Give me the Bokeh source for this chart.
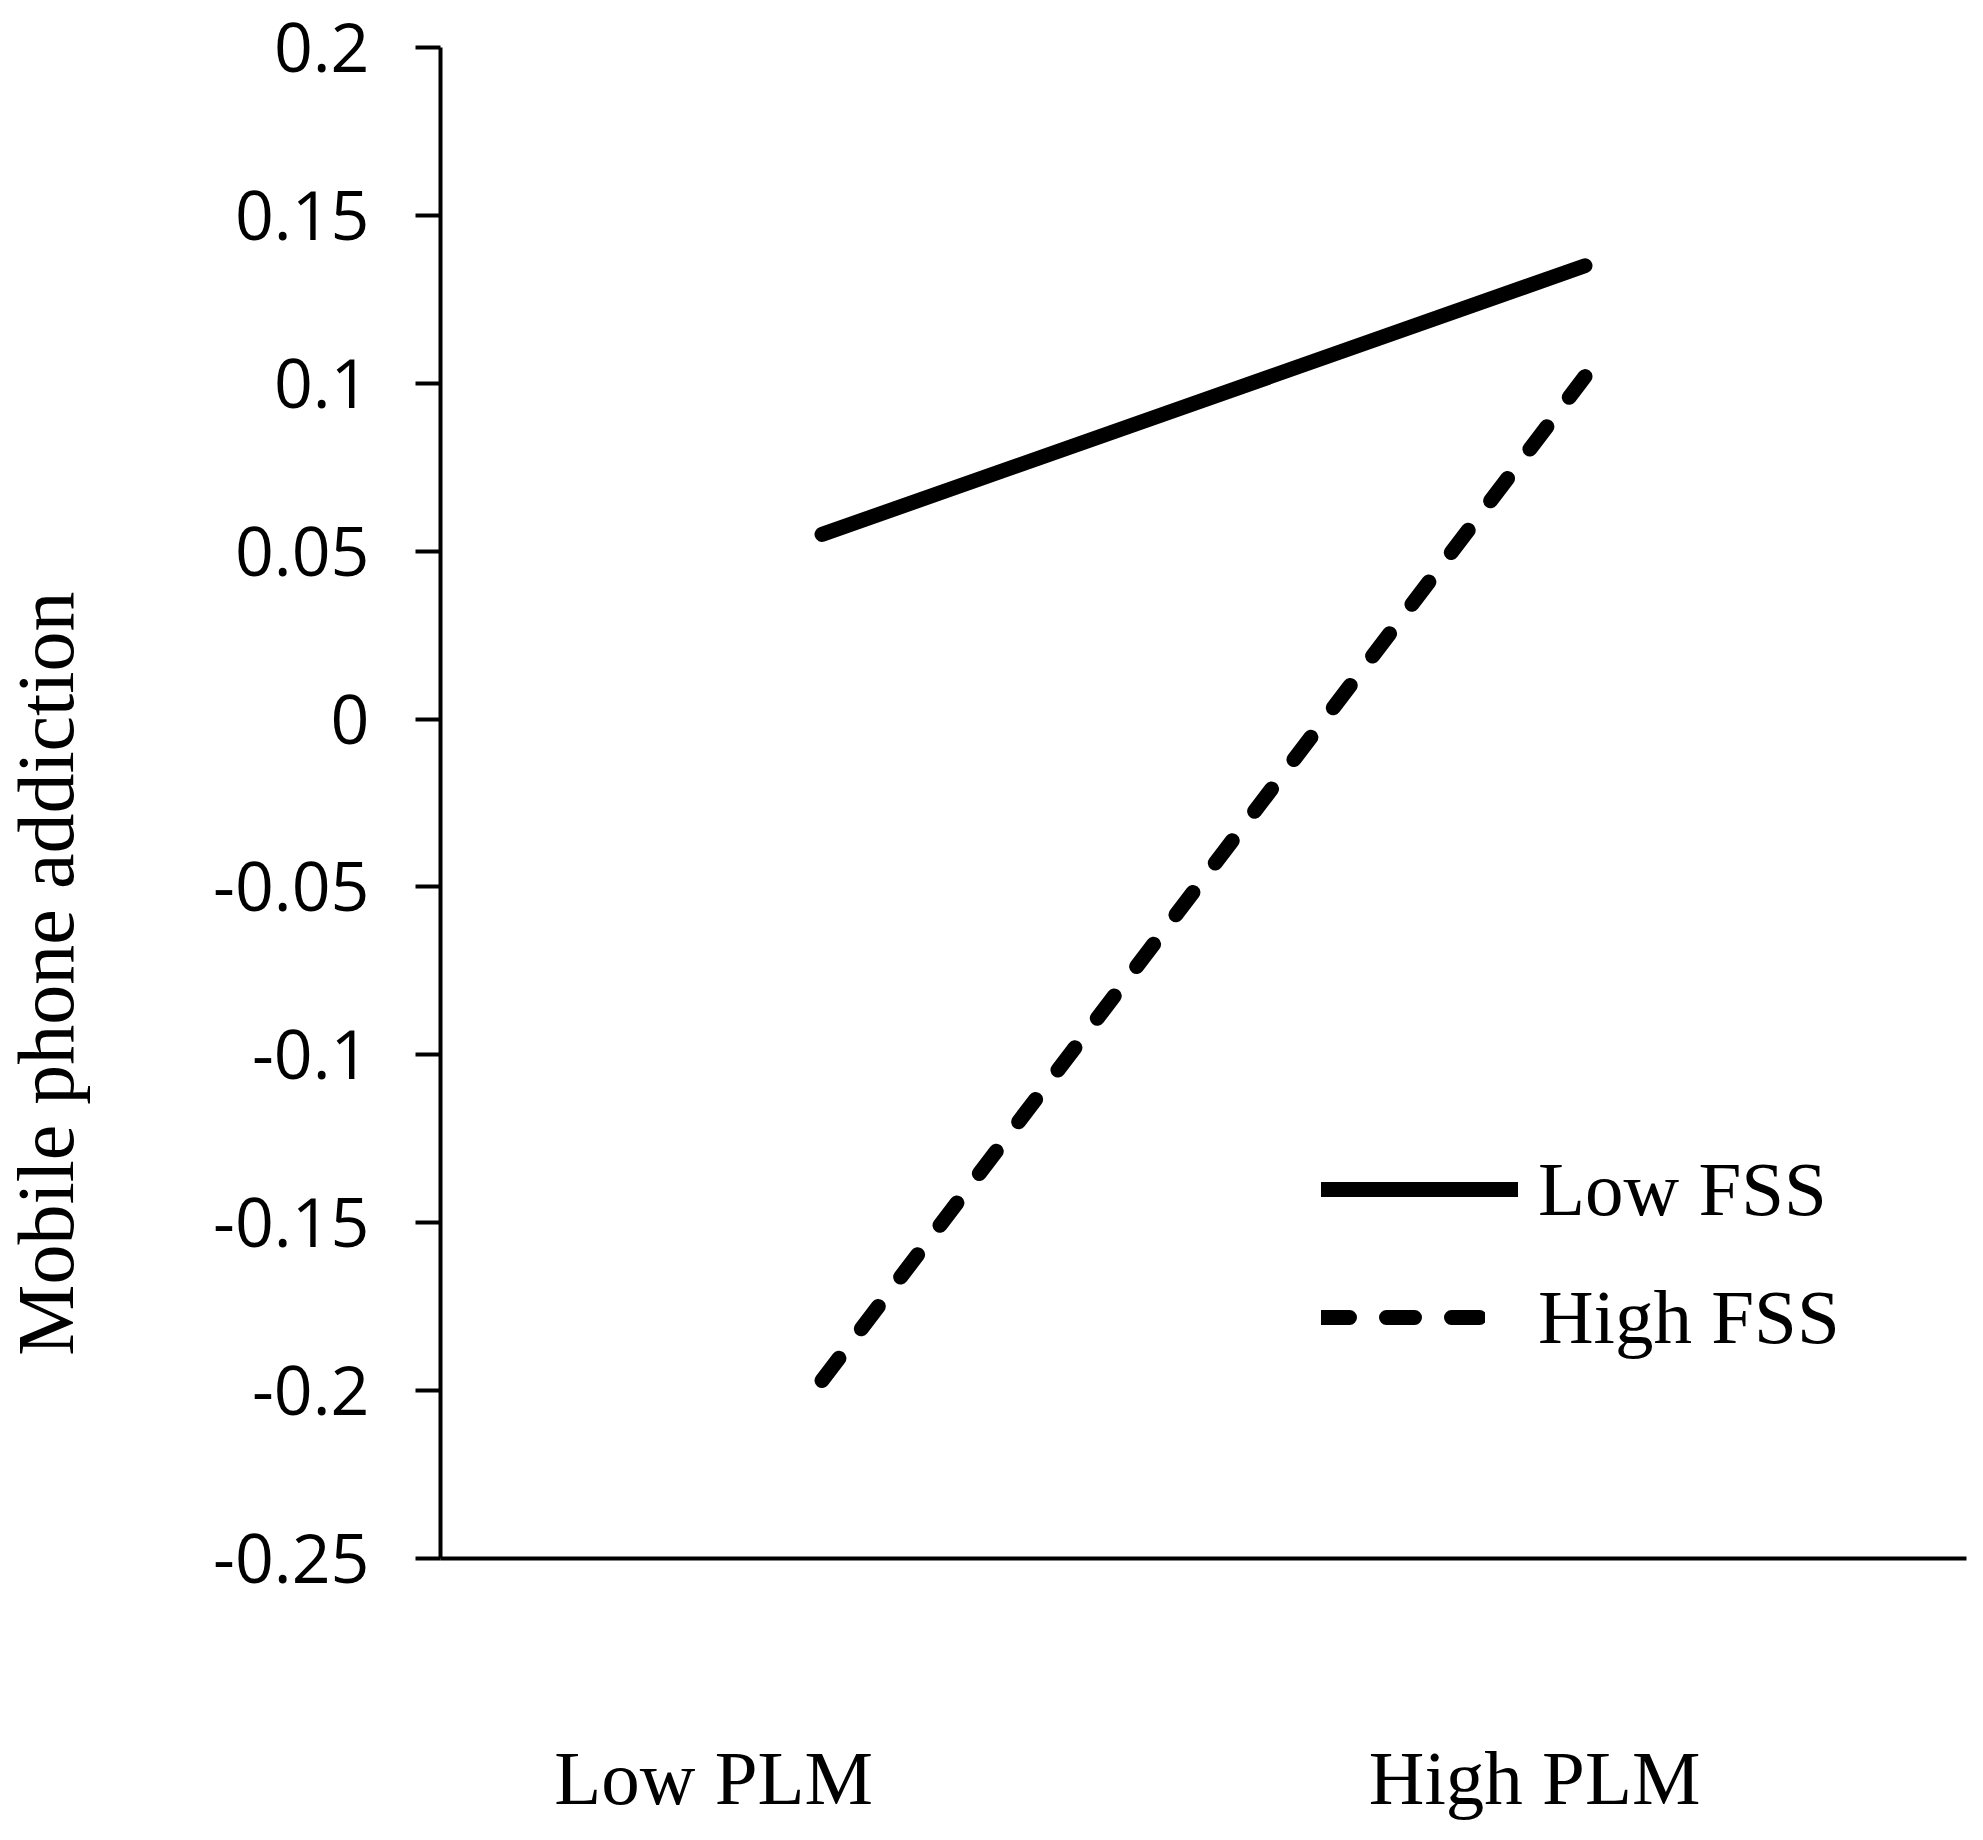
import math
from bokeh.plotting import figure
from bokeh.layouts import row
from bokeh.models import Legend, LegendItem, FixedTicker, Range1d
from bokeh.core.properties import value
from bokeh.embed import file_html
from bokeh.resources import INLINE

# ---- data ----
categories = ["Low PLM", "High PLM"]
cat_pos = [1, 2]
label_pos = [0.858, 1.934]   # where the category labels sit in the original picture
low_fss = [0.055, 0.135]
high_fss = [-0.197, 0.102]
series_names = ["Low FSS", "High FSS"]
y_ticks = [-0.25, -0.2, -0.15, -0.1, -0.05, 0.0, 0.05, 0.1, 0.15, 0.2]
y_tick_labels = ["-0.25", "-0.2", "-0.15", "-0.1", "-0.05", "0", "0.05", "0.1", "0.15", "0.2"]
y_title = "Mobile phone addiction"
y_title_center = -0.0758   # vertical centre of the axis title, in data units

TITLE_W = 90
FRAME_H = 1511
BORDER_TOP = 47
BORDER_BOTTOM = 266

yr = Range1d(-0.25, 0.2)

# ---- narrow strip holding the rotated y-axis title ----
pt = figure(frame_width=TITLE_W, frame_height=FRAME_H, x_range=Range1d(0, TITLE_W), y_range=yr,
            x_axis_location=None, y_axis_location=None,
            output_backend="svg", toolbar_location=None,
            min_border_left=0, min_border_right=0,
            min_border_top=BORDER_TOP, min_border_bottom=BORDER_BOTTOM,
            background_fill_color="white", border_fill_color="white")
pt.grid.visible = False
pt.outline_line_color = None
pt.text(x=[TITLE_W / 2], y=[y_title_center], text=[y_title], angle=math.pi / 2,
        text_align="center", text_baseline="middle",
        text_font=value("Liberation Serif"), text_font_size="80px", text_color="black")

# ---- main chart ----
p = figure(
    frame_width=1526, frame_height=FRAME_H,
    x_range=Range1d(0.5, 2.5), y_range=yr,
    output_backend="svg", toolbar_location=None,
    min_border_left=440 - TITLE_W, min_border_right=1,
    min_border_top=BORDER_TOP, min_border_bottom=BORDER_BOTTOM,
    background_fill_color="white", border_fill_color="white",
)
p.grid.visible = False
p.outline_line_color = None

# y axis
ya = p.yaxis[0]
ya.ticker = FixedTicker(ticks=y_ticks)
ya.major_label_overrides = {t: l for t, l in zip(y_ticks, y_tick_labels)}
ya.major_tick_out = 25
ya.major_tick_in = 0
ya.minor_tick_out = 0
ya.minor_tick_in = 0
ya.major_tick_line_width = 4
ya.major_tick_line_color = "black"
ya.axis_line_width = 4
ya.axis_line_color = "black"
ya.major_label_text_font = "Open Sans"
ya.major_label_text_font_size = "68px"
ya.major_label_text_color = "black"
ya.major_label_standoff = 46

# x axis
xa = p.xaxis[0]
xa.ticker = FixedTicker(ticks=label_pos)
xa.major_label_overrides = {t: l for t, l in zip(label_pos, categories)}
xa.major_tick_out = 0
xa.major_tick_in = 0
xa.minor_tick_out = 0
xa.minor_tick_in = 0
xa.axis_line_width = 4
xa.axis_line_color = "black"
xa.major_label_text_font = "Liberation Serif"
xa.major_label_text_font_size = "77px"
xa.major_label_text_color = "black"
xa.major_label_standoff = 176

r1 = p.line(cat_pos, low_fss, line_width=15, line_cap="round", line_color="black")
r2 = p.line(cat_pos, high_fss, line_width=15, line_cap="round", line_color="black",
            line_dash="28 37")

legend_specs = [
    (series_names[0], [r1], (881, 323), 197, 20),
    (series_names[1], [r2], (881, 195), 164, 53),
]
for name, rends, loc, gw, stand in legend_specs:
    leg = Legend(items=[LegendItem(label=name, renderers=rends)], location=loc)
    leg.padding = 0
    leg.margin = 0
    leg.border_line_color = None
    leg.background_fill_alpha = 0
    leg.glyph_width = gw
    leg.glyph_height = 92
    leg.label_height = 92
    leg.label_standoff = stand
    leg.label_text_font = "Liberation Serif"
    leg.label_text_font_size = "77px"
    leg.label_text_color = "black"
    leg.label_text_baseline = "middle"
    p.add_layout(leg)

layout = row(pt, p, spacing=0)
open("out.html", "w").write(file_html(layout, INLINE))
